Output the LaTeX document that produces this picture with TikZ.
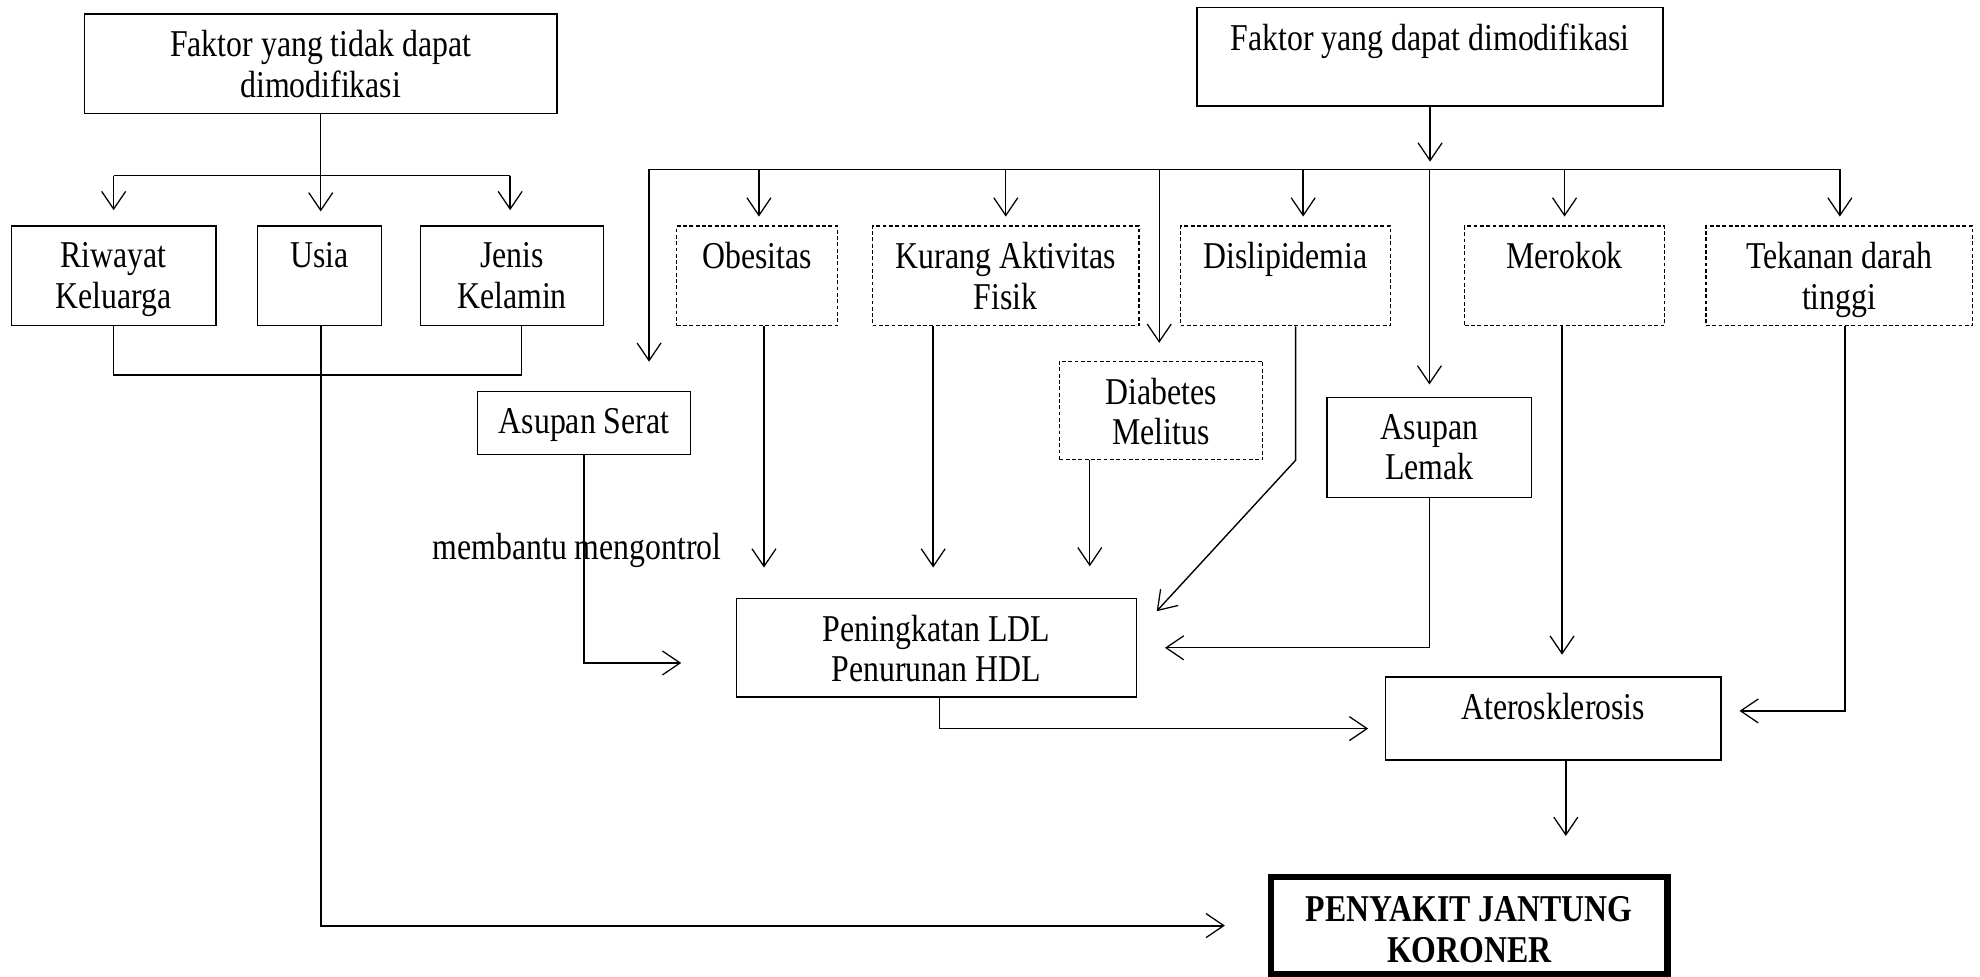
\documentclass[tikz,border=0pt]{standalone}
\usepackage{fontspec}
\setmainfont{Liberation Serif}[FakeStretch=0.84]
\usetikzlibrary{arrows.meta}
\begin{document}
\begin{tikzpicture}[x=1pt,y=-1pt,
  sbox/.style={draw, line width=1.1pt, inner sep=0pt},
  dbox/.style={draw, line width=1pt, dash pattern=on 3pt off 2pt, inner sep=0pt},
  txt/.style={anchor=north, yshift=-13.5pt, inner sep=0pt, align=center, font=\fontsize{30}{32}\selectfont},
  plain/.style={inner sep=0pt, font=\fontsize{30}{32}\selectfont},
  ln/.style={draw, line width=1.1pt},
  arr/.style={ln, -{Straight Barb[length=14pt,width=19pt,line width=1pt]}}
]
\useasboundingbox (0,0) rectangle (1568,773);

% left group
\node[sbox, minimum width=374pt, minimum height=79pt] (fA) at (254,50.5) {};
\node[txt] (fAt) at (fA.north) {Faktor yang tidak dapat\\dimodifikasi};
\node[sbox, minimum width=162pt, minimum height=79pt] (riw) at (90,218.5) {};
\node[txt] (riwt) at (riw.north) {Riwayat\\Keluarga};
\node[sbox, minimum width=98pt, minimum height=79pt] (usia) at (253,218.5) {};
\node[txt] (usiat) at (usia.north) {Usia};
\node[sbox, minimum width=145pt, minimum height=79pt] (jenis) at (405.5,218.5) {};
\node[txt] (jenist) at (jenis.north) {Jenis\\Kelamin};

% right group
\node[sbox, minimum width=369pt, minimum height=78pt] (fB) at (1132.5,45) {};
\node[txt] (fBt) at (fB.north) {Faktor yang dapat dimodifikasi};
\node[dbox, minimum width=127pt, minimum height=79pt] (obes) at (599.5,218.5) {};
\node[txt] (obest) at (obes.north) {Obesitas};
\node[dbox, minimum width=211pt, minimum height=79pt] (kur) at (796.5,218.5) {};
\node[txt] (kurt) at (kur.north) {Kurang Aktivitas\\Fisik};
\node[dbox, minimum width=166pt, minimum height=79pt] (dis) at (1018,218.5) {};
\node[txt] (dist) at (dis.north) {Dislipidemia};
\node[dbox, minimum width=158pt, minimum height=79pt] (mer) at (1239,218.5) {};
\node[txt] (mert) at (mer.north) {Merokok};
\node[dbox, minimum width=211pt, minimum height=79pt] (tek) at (1456.5,218.5) {};
\node[txt] (tekt) at (tek.north) {Tekanan darah\\tinggi};
\node[dbox, minimum width=161pt, minimum height=78pt] (dia) at (919.5,325) {};
\node[txt] (diat) at (dia.north) {Diabetes\\Melitus};
\node[sbox, minimum width=162pt, minimum height=79pt] (lem) at (1132,354.5) {};
\node[txt] (lemt) at (lem.north) {Asupan\\Lemak};
\node[sbox, minimum width=169pt, minimum height=50pt] (ser) at (462.5,335) {};
\node[txt] (sert) at (ser.north) {Asupan Serat};
\node[sbox, minimum width=317pt, minimum height=78pt] (pen) at (741.5,513) {};
\node[txt] (pent) at (pen.north) {Peningkatan LDL\\Penurunan HDL};
\node[sbox, minimum width=266pt, minimum height=66pt] (ate) at (1230,569) {};
\node[txt] (atet) at (ate.north) {Aterosklerosis};
\node[draw, line width=5pt, inner sep=0pt, minimum width=314pt, minimum height=77pt] (pjk) at (1163.5,733) {};
\node[txt, yshift=-4.5pt, font=\fontsize{30}{32}\selectfont\bfseries] (pjkt) at (pjk.north) {PENYAKIT JANTUNG\\KORONER};

\node[plain] (mm) at (457,436) {membantu mengontrol};

% left connectors
\coordinate (lb1) at (90,139);
\coordinate (lb2) at (404,139);
\draw[ln] (lb1) -- (lb2);
\draw[arr, shorten >=11pt] (fA.south) -- (fA.south |- usia.north);
\draw[arr, shorten >=12pt] (lb1) -- (lb1 |- riw.north);
\draw[arr, shorten >=12pt] (lb2) -- (lb2 |- jenis.north);
\coordinate (jb) at (413,297);
\draw[ln] (riw.south) |- (jb) -- (jb |- jenis.south);
\draw[arr, line width=1.5pt, shorten >=34pt] ([xshift=1pt]usia.south) |- (pjk.west);

% right connectors
\coordinate (rb1) at (514,134);
\coordinate (rb2) at (1457,134);
\draw[ln] (rb1) -- (rb2);
\draw[arr, shorten >=6pt] (fB.south) -- (fB.south |- rb1);
\draw[arr, shorten >=23pt] (rb1) -- (rb1 |- ser.north);
\draw[arr, shorten >=7pt] ([xshift=1.5pt]obes.north |- rb1) -- ([xshift=1.5pt]obes.north);
\draw[arr, shorten >=7pt] (kur.north |- rb1) -- (kur.north);
\draw[arr, shorten >=14pt] ([xshift=-1.5pt]dia.north |- rb1) -- ([xshift=-1.5pt]dia.north);
\draw[arr, shorten >=7pt] ([xshift=14pt]dis.north |- rb1) -- ([xshift=14pt]dis.north);
\draw[arr, shorten >=10pt] (lem.north |- rb1) -- (lem.north);
\draw[arr, shorten >=7pt] (mer.north |- rb1) -- (mer.north);
\draw[arr, shorten >=7pt] (rb2) -- (rb2 |- tek.north);

% lower connectors
\draw[arr, shorten >=43pt] (ser.south) |- ([yshift=-12pt]pen.west);
\draw[arr, shorten >=24pt] ([xshift=5.5pt]obes.south) -- ([xshift=5.5pt]obes.south |- pen.north);
\draw[arr, shorten >=24pt] ([xshift=-57.5pt]kur.south) -- ([xshift=-57.5pt]kur.south |- pen.north);
\draw[arr, shorten >=25pt] ([xshift=-56.5pt]dia.south) -- ([xshift=-56.5pt]dia.south |- pen.north);
\coordinate (disTip) at (916,484);
\draw[arr] ([xshift=8pt]dis.south) -- ++(0,106) -- (disTip);
\draw[arr, shorten >=22pt] (lem.south) |- (pen.east);
\draw[arr, shorten >=17pt] ([xshift=-2pt]mer.south) -- ([xshift=-2pt]mer.south |- ate.north);
\draw[arr, shorten >=14pt] ([xshift=4.5pt]tek.south) |- ([yshift=6pt]ate.east);
\draw[arr, shorten >=13pt] ([xshift=2.5pt]pen.south) |- ([yshift=-8pt]ate.west);
\draw[arr, shorten >=30pt] ([xshift=10pt]ate.south) -- ([xshift=10pt]ate.south |- pjk.north);
\end{tikzpicture}
\end{document}
